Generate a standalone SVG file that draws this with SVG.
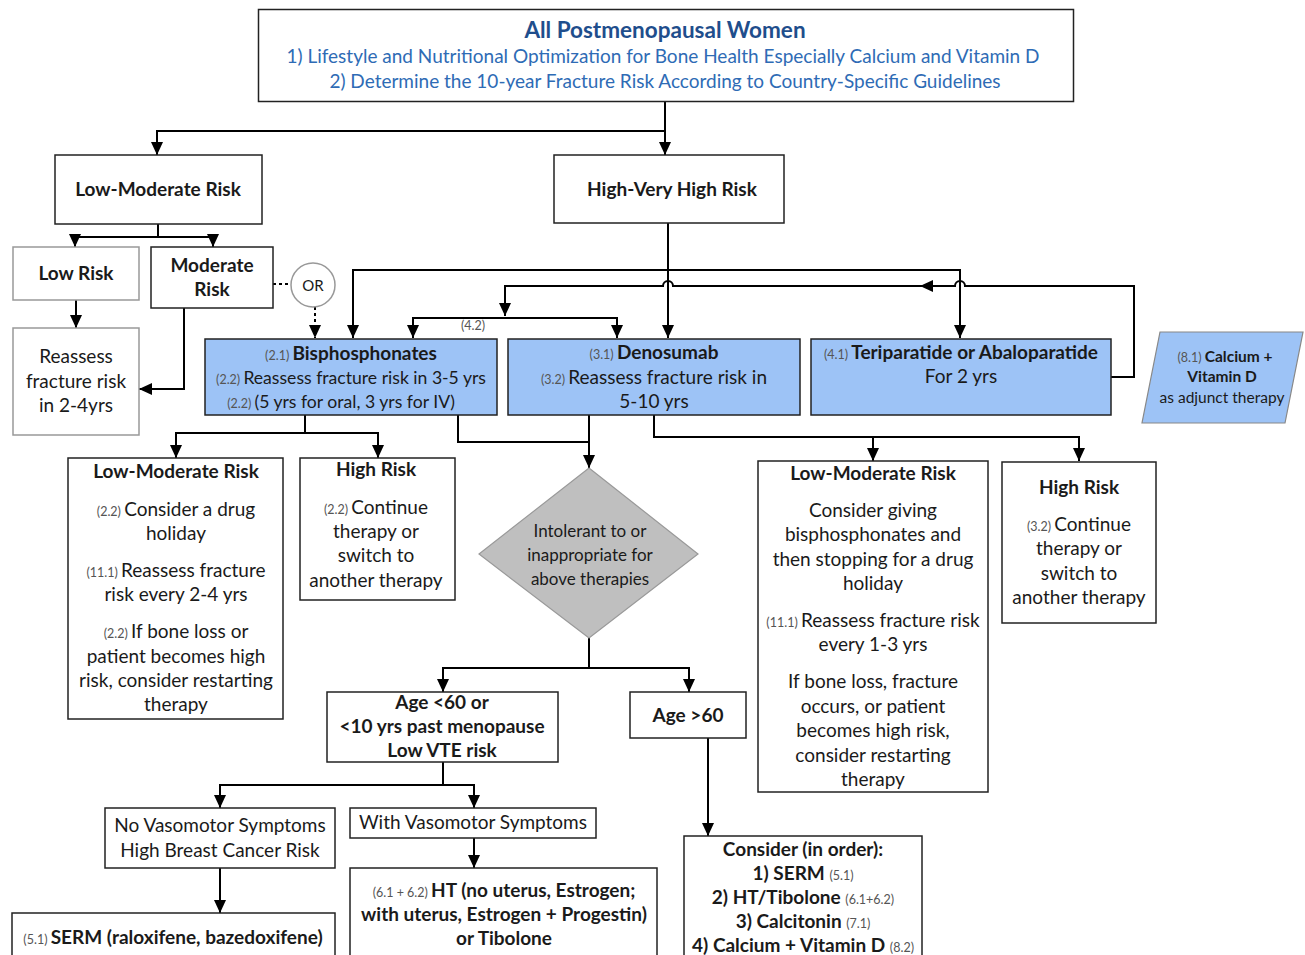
<svg xmlns="http://www.w3.org/2000/svg" width="1305" height="955" viewBox="0 0 1305 955">
<defs>
<marker id="ah" markerUnits="userSpaceOnUse" markerWidth="13" markerHeight="12" refX="13" refY="6" orient="auto">
<path d="M0,0 L13,6 L0,12 z" fill="#000"/>
</marker>
<style>
.b{fill:#fff;stroke:#222;stroke-width:1.5}
.bl{fill:#9DC3F6;stroke:#222;stroke-width:1.5}
.g{fill:#fff;stroke:#999;stroke-width:1.5}
text{font-family:Lato,"Liberation Sans",sans-serif;font-size:19px;text-anchor:middle;fill:#1a1a1a}
.bo{font-weight:bold}
.p{font-size:12.5px;fill:#555;font-weight:normal}
.s{font-size:17.6px}
#connectors path{fill:none;stroke:#000;stroke-width:2}
#connectors .dot{stroke-dasharray:3 3}
</style>
</defs>
<rect width="1305" height="955" fill="#fff"/>

<g id="connectors">
<path d="M665,102 V131 H157 V155" marker-end="url(#ah)"/>
<path d="M665,131 V155" marker-end="url(#ah)"/>
<path d="M158,224 V237 H75 V247" marker-end="url(#ah)"/>
<path d="M158,237 H213 V247" marker-end="url(#ah)"/>
<path d="M76,300 V328" marker-end="url(#ah)"/>
<path d="M184,308 V389 H139" marker-end="url(#ah)"/>
<path class="dot" d="M273,284 H291"/>
<path class="dot" d="M315,307 V338" marker-end="url(#ah)"/>
<path d="M668,223 V270 H353 V338" marker-end="url(#ah)"/>
<path d="M668,270 V338" marker-end="url(#ah)"/>
<path d="M668,270 H960 V338" marker-end="url(#ah)"/>
<path d="M1111,377 H1134 V286 H965 A5,5 0 0 0 955,286 H920"/>
<path d="M940,286 H920" marker-end="url(#ah)"/>
<path d="M920,286 H673 A5,5 0 0 0 663,286 H505 V316"  marker-end="url(#ah)"/>
<path d="M505,318 H413 V338" marker-end="url(#ah)"/>
<path d="M505,318 H617 V338" marker-end="url(#ah)"/>
<path d="M305,415 V433 H176 V458" marker-end="url(#ah)"/>
<path d="M305,433 H378 V458" marker-end="url(#ah)"/>
<path d="M458,415 V442 H589"/>
<path d="M589,415 V468" marker-end="url(#ah)"/>
<path d="M654,415 V437 H873 V461" marker-end="url(#ah)"/>
<path d="M873,437 H1079 V461" marker-end="url(#ah)"/>
<path d="M589,638 V668 H443 V692" marker-end="url(#ah)"/>
<path d="M589,668 H689 V692" marker-end="url(#ah)"/>
<path d="M708,738 V836" marker-end="url(#ah)"/>
<path d="M443,762 V785 H220 V808" marker-end="url(#ah)"/>
<path d="M443,785 H474 V808" marker-end="url(#ah)"/>
<path d="M220,868 V913" marker-end="url(#ah)"/>
<path d="M474,838 V868" marker-end="url(#ah)"/>
</g>

<g id="n-top">
<rect class="b" x="258.5" y="9.5" width="815" height="92"/>
<text x="665" y="38" class="bo" style="font-size:22.5px;fill:#1F4E8C">All Postmenopausal Women</text>
<text x="663" y="63" style="fill:#2E6BB5">1) Lifestyle and Nutritional Optimization for Bone Health Especially Calcium and Vitamin D</text>
<text x="665" y="88" style="fill:#2E6BB5">2) Determine the 10-year Fracture Risk According to Country-Specific Guidelines</text>
</g>

<g id="n-lowmod">
<rect class="b" x="55" y="155" width="207" height="69"/>
<text x="158" y="196" class="bo">Low-Moderate Risk</text>
</g>

<g id="n-high">
<rect class="b" x="554" y="155" width="230" height="68"/>
<text x="672" y="196" class="bo">High-Very High Risk</text>
</g>

<g id="n-lowrisk">
<rect class="g" x="13" y="247" width="126" height="53"/>
<text x="76" y="280" class="bo">Low Risk</text>
</g>

<g id="n-modrisk">
<rect class="b" x="151" y="247" width="122" height="61"/>
<text x="212" y="272" class="bo">Moderate</text>
<text x="212" y="296" class="bo">Risk</text>
</g>

<g id="n-reassess">
<rect class="g" x="13" y="328" width="126" height="107"/>
<text x="76" y="363">Reassess</text>
<text x="76" y="388">fracture risk</text>
<text x="76" y="412">in 2-4yrs</text>
</g>

<g id="n-or">
<circle cx="313" cy="285" r="22" fill="#fff" stroke="#999" stroke-width="1.5"/>
<text x="313" y="291" style="font-size:15px">OR</text>
</g>

<g id="n-bisph">
<rect class="bl" x="205" y="339" width="292" height="76"/>
<text x="351" y="360"><tspan class="p">(2.1) </tspan><tspan class="bo">Bisphosphonates</tspan></text>
<text x="351" y="384" class="s"><tspan class="p">(2.2) </tspan>Reassess fracture risk in 3-5 yrs</text>
<text x="341" y="408" class="s"><tspan class="p">(2.2) </tspan>(5 yrs for oral, 3 yrs for IV)</text>
</g>

<g id="n-deno">
<rect class="bl" x="508" y="339" width="292" height="76"/>
<text x="654" y="359"><tspan class="p">(3.1) </tspan><tspan class="bo">Denosumab</tspan></text>
<text x="654" y="384"><tspan class="p">(3.2) </tspan>Reassess fracture risk in</text>
<text x="654" y="408">5-10 yrs</text>
</g>

<g id="n-teri">
<rect class="bl" x="811" y="339" width="300" height="76"/>
<text x="961" y="359"><tspan class="p">(4.1) </tspan><tspan class="bo">Teriparatide or Abaloparatide</tspan></text>
<text x="961" y="383">For 2 yrs</text>
</g>

<g id="n-calcium">
<polygon points="1160,332 1303,332 1285,423 1142,423" fill="#9DC3F6" stroke="#888" stroke-width="1.2"/>
<text x="1225" y="362" style="font-size:15.5px"><tspan class="p">(8.1) </tspan><tspan class="bo">Calcium +</tspan></text>
<text x="1222" y="382" class="bo" style="font-size:15.5px">Vitamin D</text>
<text x="1222" y="403" style="font-size:15.5px">as adjunct therapy</text>
</g>

<text x="473" y="330" class="p">(4.2)</text>

<g id="n-lowmod2">
<rect class="b" x="68" y="458" width="215" height="261"/>
<text x="176" y="478" class="bo">Low-Moderate Risk</text>
<text x="176" y="516"><tspan class="p">(2.2) </tspan>Consider a drug</text>
<text x="176" y="540">holiday</text>
<text x="176" y="577"><tspan class="p">(11.1) </tspan>Reassess fracture</text>
<text x="176" y="601">risk every 2-4 yrs</text>
<text x="176" y="638"><tspan class="p">(2.2) </tspan>If bone loss or</text>
<text x="176" y="663">patient becomes high</text>
<text x="176" y="687">risk, consider restarting</text>
<text x="176" y="711">therapy</text>
</g>

<g id="n-highrisk2">
<rect class="b" x="300" y="458" width="155" height="142"/>
<text x="376" y="476" class="bo">High Risk</text>
<text x="376" y="514"><tspan class="p">(2.2) </tspan>Continue</text>
<text x="376" y="538">therapy or</text>
<text x="376" y="562">switch to</text>
<text x="376" y="587">another therapy</text>
</g>

<g id="n-diamond">
<polygon points="589,468 698,554 589,638 479,554" fill="#BFBFBF" stroke="#999" stroke-width="1.2"/>
<text x="590" y="537" style="font-size:17px">Intolerant to or</text>
<text x="590" y="561" style="font-size:17px">inappropriate for</text>
<text x="590" y="585" style="font-size:17px">above therapies</text>
</g>

<g id="n-lowmod3">
<rect class="b" x="758" y="461" width="230" height="331"/>
<text x="873" y="480" class="bo">Low-Moderate Risk</text>
<text x="873" y="517">Consider giving</text>
<text x="873" y="541">bisphosphonates and</text>
<text x="873" y="566">then stopping for a drug</text>
<text x="873" y="590">holiday</text>
<text x="873" y="627"><tspan class="p">(11.1) </tspan>Reassess fracture risk</text>
<text x="873" y="651">every 1-3 yrs</text>
<text x="873" y="688">If bone loss, fracture</text>
<text x="873" y="713">occurs, or patient</text>
<text x="873" y="737">becomes high risk,</text>
<text x="873" y="762">consider restarting</text>
<text x="873" y="786">therapy</text>
</g>

<g id="n-highrisk3">
<rect class="b" x="1002" y="462" width="154" height="161"/>
<text x="1079" y="494" class="bo">High Risk</text>
<text x="1079" y="531"><tspan class="p">(3.2) </tspan>Continue</text>
<text x="1079" y="555">therapy or</text>
<text x="1079" y="580">switch to</text>
<text x="1079" y="604">another therapy</text>
</g>

<g id="n-age60">
<rect class="b" x="327" y="692" width="231" height="70"/>
<text x="442" y="709" class="bo">Age &lt;60 or</text>
<text x="442" y="733" class="bo">&lt;10 yrs past menopause</text>
<text x="442" y="757" class="bo">Low VTE risk</text>
</g>

<g id="n-agegt60">
<rect class="b" x="630" y="692" width="116" height="46"/>
<text x="688" y="722" class="bo">Age &gt;60</text>
</g>

<g id="n-novaso">
<rect class="b" x="105" y="808" width="230" height="60"/>
<text x="220" y="832">No Vasomotor Symptoms</text>
<text x="220" y="857">High Breast Cancer Risk</text>
</g>

<g id="n-withvaso">
<rect class="b" x="350" y="808" width="246" height="30"/>
<text x="473" y="829">With Vasomotor Symptoms</text>
</g>

<g id="n-serm">
<rect class="b" x="12" y="913" width="323" height="50"/>
<text x="173" y="944" class="bo"><tspan class="p">(5.1) </tspan>SERM (raloxifene, bazedoxifene)</text>
</g>

<g id="n-ht">
<rect class="b" x="350" y="868" width="307" height="95"/>
<text x="504" y="897" class="bo"><tspan class="p">(6.1 + 6.2) </tspan>HT (no uterus, Estrogen;</text>
<text x="504" y="921" class="bo">with uterus, Estrogen + Progestin)</text>
<text x="504" y="945" class="bo">or Tibolone</text>
</g>

<g id="n-consider">
<rect class="b" x="684" y="836" width="238" height="130"/>
<text x="803" y="856" class="bo">Consider (in order):</text>
<text x="803" y="880" class="bo">1) SERM <tspan class="p">(5.1)</tspan></text>
<text x="803" y="904" class="bo">2) HT/Tibolone <tspan class="p">(6.1+6.2)</tspan></text>
<text x="803" y="928" class="bo">3) Calcitonin <tspan class="p">(7.1)</tspan></text>
<text x="803" y="952" class="bo">4) Calcium + Vitamin D <tspan class="p">(8.2)</tspan></text>
</g>
</svg>
